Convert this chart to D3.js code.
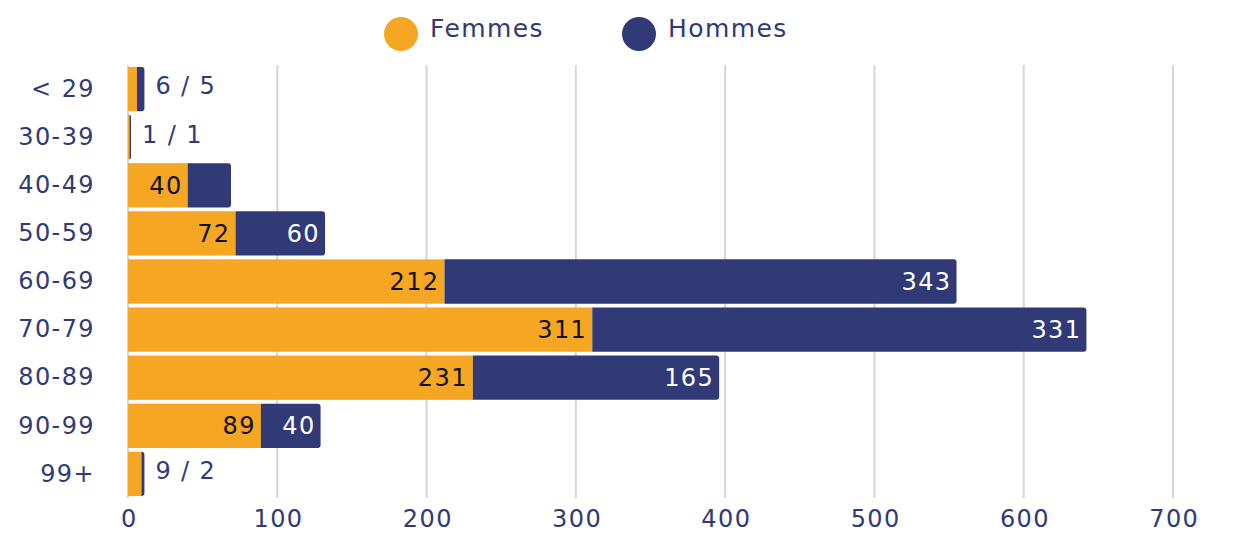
<!DOCTYPE html>
<html><head><meta charset="utf-8">
<script src="https://cdn.jsdelivr.net/npm/d3@7"></script>
<style>body{margin:0;background:#fff;} text{font-family:"DejaVu Sans",sans-serif;letter-spacing:1.4px;}</style>
</head><body>
<svg id="c" width="1255" height="540"></svg>
<script>
const categories = ["< 29","30-39","40-49","50-59","60-69","70-79","80-89","90-99","99+"];
const femmes = [6,1,40,72,212,311,231,89,9];
const hommes = [5,1,29,60,343,331,165,40,2];
const xTicks = [0,100,200,300,400,500,600,700];
const seriesNames = ["Femmes","Hommes"];
const colors = ["#F5A623","#313A77"];
const textColor = "#313A77";
const FONT = "DejaVu Sans, sans-serif";
const FS = 24;

const svg = d3.select("#c");
const x = d3.scaleLinear().domain([0,700]).range([128,1173]);
const y = d3.scaleBand().domain(categories).range([65,498]).paddingInner(0.08).paddingOuter(0.04);

// grid
svg.append("g").selectAll("line").data(xTicks).join("line")
  .attr("x1",d=>x(d)).attr("x2",d=>x(d)).attr("y1",65).attr("y2",498)
  .attr("stroke","#d4d4e2").attr("stroke-width",2);

// x axis labels
const xa = svg.append("g").attr("transform","translate(0,498)")
  .call(d3.axisBottom(x).tickValues(xTicks).tickSize(0).tickPadding(12));
xa.select(".domain").remove();
xa.selectAll("text").attr("font-size",FS).attr("fill",textColor).attr("font-family",FONT).attr("dx","0.03em");

// y axis labels
const ya = svg.append("g").attr("transform","translate(95,0)")
  .call(d3.axisLeft(y).tickSize(0).tickPadding(0));
ya.select(".domain").remove();
ya.selectAll("text").attr("font-size",FS).attr("fill",textColor).attr("font-family",FONT);

const rows = categories.map((c,i)=>({c,f:femmes[i],h:hommes[i]}));

function roundRight(x0,x1,y0,h,r){
  r = Math.min(r,(x1-x0));
  return `M${x0},${y0}H${x1-r}Q${x1},${y0} ${x1},${y0+r}V${y0+h-r}Q${x1},${y0+h} ${x1-r},${y0+h}H${x0}Z`;
}

const g = svg.append("g");
g.selectAll("rect.f").data(rows).join("rect").attr("class","f")
  .attr("x",x(0)).attr("y",d=>y(d.c)).attr("width",d=>x(d.f)-x(0)).attr("height",y.bandwidth())
  .attr("fill",colors[0]);
g.selectAll("path.h").data(rows).join("path").attr("class","h")
  .attr("d",d=>roundRight(x(d.f),x(d.f+d.h),y(d.c),y.bandwidth(),3))
  .attr("fill",colors[1]);

const minW = 50;
rows.forEach(d=>{
  const cy = y(d.c)+y.bandwidth()/2;
  const wf = x(d.f)-x(0), wh = x(d.f+d.h)-x(d.f);
  if (wf < minW) {
    g.append("text").attr("x",x(d.f+d.h)+11).attr("y",cy-3).attr("dy","0.35em")
      .attr("font-size",FS).attr("fill",textColor).text(d.f+" / "+d.h);
  } else {
    g.append("text").attr("x",x(d.f)-5).attr("y",cy).attr("dy","0.35em").attr("text-anchor","end")
      .attr("font-size",FS).attr("fill","#111").text(d.f);
    if (wh >= minW) g.append("text").attr("x",x(d.f+d.h)-5).attr("y",cy).attr("dy","0.35em").attr("text-anchor","end")
      .attr("font-size",FS).attr("fill","#fff").text(d.h);
  }
});

// legend
const leg = svg.append("g");
const legX = [401,639];
seriesNames.forEach((s,i)=>{
  leg.append("circle").attr("cx",legX[i]).attr("cy",34).attr("r",17).attr("fill",colors[i]);
  leg.append("text").attr("x",legX[i]+29).attr("y",28).attr("dy","0.35em").attr("font-size",FS+1)
    .attr("fill",textColor).text(s);
});
</script>
</body></html>
